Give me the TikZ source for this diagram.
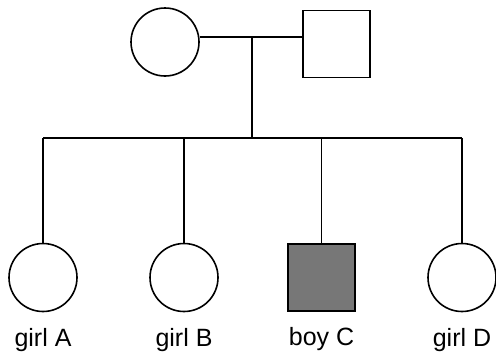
\documentclass[tikz,border=0pt]{standalone}
\usepackage{fontspec}
\setmainfont{Liberation Sans}
\usetikzlibrary{positioning}
\definecolor{affected}{RGB}{119,119,119}

\begin{document}
\begin{tikzpicture}[x=0.5pt,y=-0.5pt,line width=0.8pt,node distance=7.5pt,
    female/.style={circle,draw,minimum size=34pt,inner sep=0pt},
    male/.style={rectangle,draw,minimum size=33.5pt,inner sep=0pt},
    lbl/.style={inner sep=0pt,font=\fontsize{12.5}{14}\selectfont}]
    \useasboundingbox (0,0) rectangle (496,354);

    % parents
    \node[female] (mother) at (165,42) {};
    \node[male] (father) at (336.5,44) {};
    \coordinate (mid) at (252,37);
    \coordinate (sib) at (252,138);

    % children
    \node[female] (a) at (43,277.5) {};
    \node[female] (b) at (184,277.5) {};
    \node[male,fill=affected] (c) at (321.5,277.5) {};
    \node[female] (d) at (462,277.5) {};

    \node[lbl,below=of a] (la) {girl A};
    \node[lbl,below=of b] (lb) {girl B};
    \node[lbl,below=of c] (lc) {boy C};
    \node[lbl,below=of d] (ld) {girl D};

    \draw (mother.east |- mid) -- (father.west |- mid);
    \draw (mid) -- (sib);
    \draw (a.north |- sib) -- (d.north |- sib);
    \draw (a.north |- sib) -- (a.north);
    \draw (b.north |- sib) -- (b.north);
    \draw (c.north |- sib) -- (c.north);
    \draw (d.north |- sib) -- (d.north);
\end{tikzpicture}
\end{document}
